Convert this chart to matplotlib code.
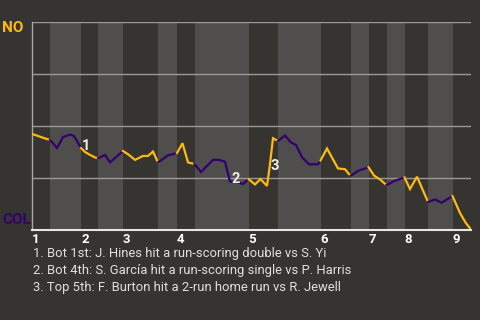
import matplotlib
matplotlib.use("Agg")
import matplotlib.pyplot as plt

# Game progress (x) and NO win probability (y) for each half-inning
half_innings = [
    ("top", [0, 6, 12, 18], [0.462, 0.452, 0.442, 0.433]),
    ("bot", [18, 25, 31, 38, 42, 49], [0.433, 0.394, 0.447, 0.459, 0.452, 0.394]),
    ("top", [49, 53, 58, 63, 66], [0.394, 0.375, 0.361, 0.349, 0.344]),
    ("bot", [66, 73, 78, 91], [0.344, 0.361, 0.325, 0.380]),
    ("top", [91, 97, 103, 111, 116, 121, 126], [0.380, 0.361, 0.337, 0.356, 0.356, 0.377, 0.325]),
    ("bot", [126, 136, 145], [0.325, 0.359, 0.370]),
    ("top", [145, 150.5, 156, 162.5], [0.370, 0.417, 0.325, 0.317]),
    ("bot", [162.5, 169, 181, 187, 193, 198, 205, 211, 216.5],
     [0.317, 0.279, 0.337, 0.337, 0.328, 0.233, 0.231, 0.221, 0.245]),
    ("top", [216.5, 223, 228.5, 235, 237.5, 241, 246],
     [0.245, 0.219, 0.245, 0.212, 0.298, 0.441, 0.428]),
    ("bot", [246, 253, 259, 264, 270, 277, 286, 288.5],
     [0.428, 0.454, 0.421, 0.409, 0.350, 0.316, 0.316, 0.334]),
    ("top", [288.5, 295, 306, 313, 318.5], [0.334, 0.392, 0.296, 0.292, 0.260]),
    ("bot", [318.5, 326, 336.5], [0.260, 0.284, 0.302]),
    ("top", [336.5, 342, 348, 354.5], [0.302, 0.262, 0.243, 0.216]),
    ("bot", [354.5, 363, 372.5], [0.216, 0.237, 0.253]),
    ("top", [372.5, 378, 385, 396], [0.253, 0.197, 0.256, 0.135]),
    ("bot", [396, 403, 409.5, 420.5], [0.135, 0.147, 0.131, 0.163]),
    ("top", [420.5, 428, 433.5, 439], [0.163, 0.082, 0.036, 0.002]),
]
inning_labels = ["1", "2", "3", "4", "5", "6", "7", "8", "9"]
notes = [
    "1. Bot 1st: J. Hines hit a run-scoring double vs S. Yi",
    "2. Bot 4th: S. García hit a run-scoring single vs P. Harris",
    "3. Top 5th: F. Burton hit a 2-run home run vs R. Jewell",
]
marker_labels = ["1", "2", "3"]
marker_x = [49, 198, 237.5]
marker_y = [0.394, 0.233, 0.298]
team_top = "NO"
team_bottom = "COL"

BG = "#363430"
BAND = "#4f4e4c"
YELLOW = "#FDBA12"
PURPLE = "#33006F"

plt.rcParams['font.family'] = ['Roboto', 'DejaVu Sans']
fig = plt.figure(figsize=(4.8, 3.2), dpi=100, facecolor=BG)
ax = fig.add_axes([32/480, 90/320, 439/480, 208/320])
ax.set_facecolor(BG)

x_end = half_innings[-1][1][-1]
for i, (half, xs, ys) in enumerate(half_innings):
    x0 = xs[0]
    x1 = half_innings[i + 1][1][0] if i + 1 < len(half_innings) else x_end
    if half == "bot":
        ax.axvspan(x0, x1, color=BAND, lw=0, zorder=0)
    ax.plot(xs, ys, color=YELLOW if half == "top" else PURPLE, lw=1.6,
            solid_joinstyle='miter', zorder=3)

for g in [0.25, 0.5, 0.75, 1.0]:
    ax.axhline(g, color="#9a9a98", lw=1.0, zorder=1)

ax.set_xlim(0, x_end)
ax.set_ylim(0, 1)
for s in ["top", "right"]:
    ax.spines[s].set_visible(False)
ax.spines["left"].set_color("#a8a8a6")
ax.spines["left"].set_linewidth(1.0)
ax.spines["bottom"].set_color("#e6e6e6")
ax.spines["bottom"].set_linewidth(1.5)
ax.spines["bottom"].set_zorder(4)

tops = [xs[0] for half, xs, ys in half_innings if half == "top"]
ax.set_xticks(tops)
ax.set_xticklabels(inning_labels, fontsize=9.5, fontweight='bold', color="white", ha='left')
ax.tick_params(axis='x', length=0, pad=2)
ax.set_yticks([])

for lab, mx, my in zip(marker_labels, marker_x, marker_y):
    ax.text(mx + 1, my + 0.01, lab, fontsize=10.5, fontweight='bold', color="#eeeeee",
            ha='left', va='center', zorder=5)

fig.text(2/480, 1 - 28/320, team_top, color=YELLOW, fontsize=11, fontweight='bold',
         ha='left', va='center')
fig.text(2/480, 1 - 220/320, team_bottom, color=PURPLE, fontsize=11, fontweight='bold',
         ha='left', va='center')

for k, n in enumerate(notes):
    fig.text(33/480, 1 - (253 + 17.5*k)/320, n, color="#e0e0e0", fontsize=9.4,
             ha='left', va='center')

fig.savefig("out.png", dpi=100, facecolor=BG)
